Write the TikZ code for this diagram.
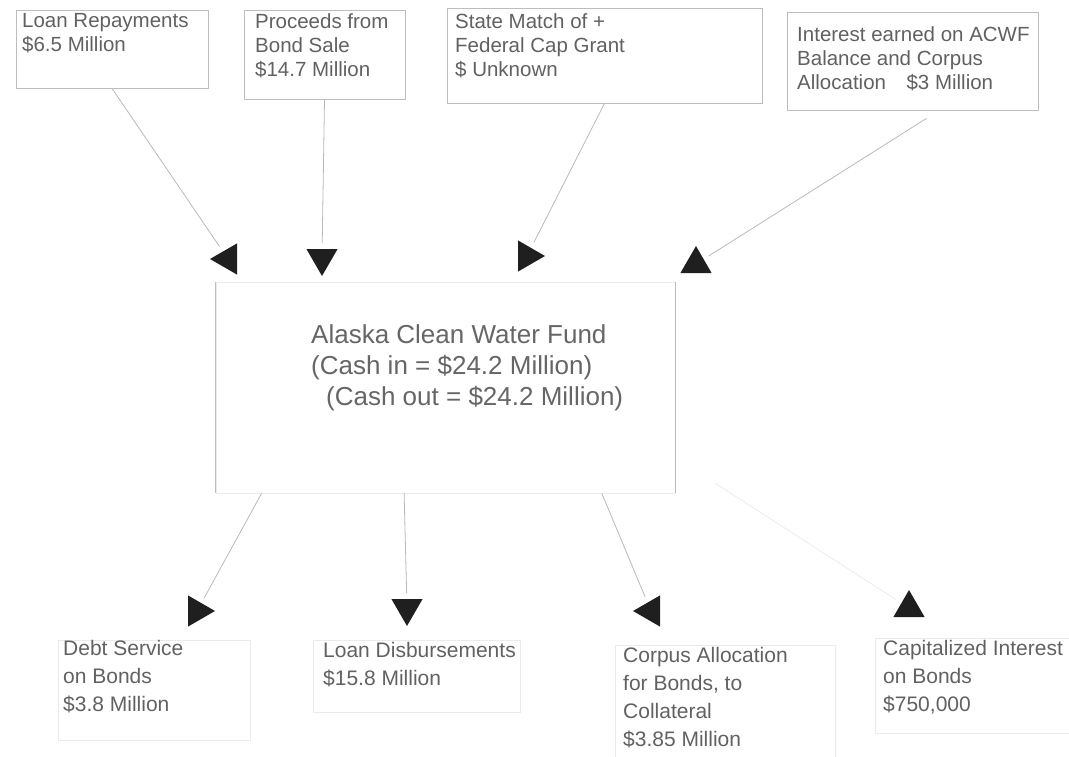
\documentclass[tikz,border=0pt]{standalone}
\usepackage{fontspec}
\setmainfont{Liberation Sans}
\usepackage{tikz}
\usetikzlibrary{shapes.geometric,fit,calc}
\definecolor{inkgray}{gray}{0.38}
\definecolor{rulegray}{gray}{0.74}
\newcommand{\topfont}   {\fontsize{20.5}{24}\selectfont}
\newcommand{\midfont}   {\fontsize{26}{31}\selectfont}
\newcommand{\lowfont}   {\fontsize{21}{28}\selectfont}

\begin{document}
\begin{tikzpicture}[x=1pt,y=-1pt,
    frame/.style={draw=rulegray,line width=0.8pt,inner sep=0pt},
    faint/.style={draw=gray!16,line width=0.8pt,inner sep=0pt},
    label/.style={anchor=north west,inner sep=0pt,align=left,text=inkgray},
    tri/.style={regular polygon,regular polygon sides=3,fill=black!88,
      minimum size=36pt,inner sep=0pt},
    wire/.style={draw=gray!55,line width=0.8pt,shorten >=6pt}]
     \useasboundingbox (0,0) rectangle (1069,757);
     % sources
     \node[frame,fit={(16,10) (208,88)}] (repaybox) {};
     \node[frame,fit={(244,10) (405,99)}] (bondbox) {};
     \node[frame,fit={(447,8) (762,103)}] (matchbox) {};
     \node[frame,fit={(787,12) (1038,110)}] (interestbox) {};
     \node[label,font=\topfont] (repay) at (22,13) {Loan Repayments\\\$6.5 Million};
     \node[label,font=\topfont] (bond) at (255,13) {Proceeds from\\Bond Sale\\\$14.7 Million};
     \node[label,font=\topfont] (match) at (455,13) {State Match of +\\Federal Cap Grant\\\$ Unknown};
     \node[label,font=\topfont] (interest) at (797,26) {Interest earned on ACWF\\Balance and Corpus\\Allocation\quad\$3 Million};
     % the fund
     \node[faint,fit={(216,282) (675,493)}] (fund) {};
     \draw[rulegray,line width=0.8pt] (fund.north west) -- (fund.south west);
     \draw[rulegray,line width=0.8pt] (fund.north east) -- (fund.south east);
     \node[label,font=\midfont,text=black!60] (acwf) at (311,324)
       {Alaska Clean Water Fund\\(Cash in = \$24.2 Million)\\\hspace*{15pt}(Cash out = \$24.2 Million)};
     % uses
     \node[faint,fit={(58,640) (250,740)}] (debtbox) {};
     \node[faint,fit={(313,640) (520,712)}] (disbbox) {};
     \node[faint,fit={(615,645) (835,757)}] (corpusbox) {};
     \node[faint,fit={(875,638) (1069,733)}] (capbox) {};
     \node[label,font=\lowfont] (debt) at (63,640) {Debt Service\\on Bonds\\\$3.8 Million};
     \node[label,font=\lowfont] (disb) at (323,642) {Loan Disbursements\\\$15.8 Million};
     \node[label,font=\lowfont] (corpus) at (623,647) {Corpus Allocation\\for Bonds, to\\Collateral\\\$3.85 Million};
     \node[label,font=\lowfont] (cap) at (883,640) {Capitalized Interest\\on Bonds\\\$750,000};
     % arrow heads
     \node[tri,rotate=90]  (inA) at (228,259) {};
     \node[tri,rotate=180] (inB) at (322,258) {};
     \node[tri,rotate=-90] (inC) at (527,256) {};
     \node[tri]            (inD) at (696,264) {};
     \node[tri,rotate=-90] (outA) at (197,611) {};
     \node[tri,rotate=180] (outB) at (407,608) {};
     \node[tri,rotate=90]  (outC) at (651,611) {};
     \node[tri]            (outD) at (909,608) {};
     % flows in
     \draw[wire] (repaybox.south) -- (inA);
     \draw[wire] (bondbox.south) -- (inB);
     \draw[wire] (matchbox.south) -- (inC);
     \draw[wire] ($(interestbox.south)+(14,8)$) -- (inD);
     % flows out
     \draw[wire] ($(fund.south west)!0.1!(fund.south east)$) -- (outA);
     \draw[wire] ($(fund.south west)!0.41!(fund.south east)$) -- (outB);
     \draw[wire] ($(fund.south west)!0.84!(fund.south east)$) -- (outC);
     \draw[wire,draw=gray!15] ($(fund.south east)+(40,-10)$) -- (outD);
\end{tikzpicture}
\end{document}
